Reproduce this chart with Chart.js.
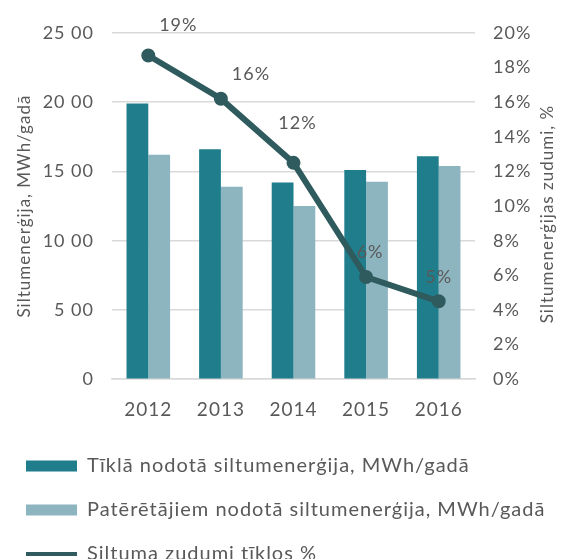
<!DOCTYPE html>
<html>
<head>
<meta charset="utf-8">
<script src="https://cdn.jsdelivr.net/npm/chart.js@4"></script>
<style>
    html, body { margin: 0; padding: 0; background: #fff; }
    #wrap { width: 563px; height: 559px; position: relative; }
</style>
</head>
<body>
<div id="wrap"><canvas id="myChart"></canvas></div>
<script>
const years = ['2012', '2013', '2014', '2015', '2016'];
const gridEnergy = [1990, 1660, 1420, 1510, 1610];
const consumerEnergy = [1620, 1390, 1250, 1425, 1540];
const lossPercent = [18.7, 16.2, 12.5, 5.9, 4.5];
const lossLabels = ['19%', '16%', '12%', '6%', '5%'];
const leftTicks = ['0', '5 00', '10 00', '15 00', '20 00', '25 00'];

const textColor = '#595959';
const fontFamily = "'Lato', 'Open Sans', sans-serif";
// where each % label sits relative to its point (dx, dy)
const labelShift = [[30, -30], [30, -25], [4, -40], [4, -25], [0, -24]];

// the original font is wide, so space the letters out a bit
const wideText = {
    id: 'wideText',
    beforeDraw(chart) {
        chart.ctx.letterSpacing = '1px';
    }
};

// data labels over the line points
const lineLabels = {
    id: 'lineLabels',
    afterDatasetsDraw(chart) {
        const meta = chart.getDatasetMeta(2);
        const ctx = chart.ctx;
        ctx.save();
        ctx.font = '18px ' + fontFamily;
        ctx.fillStyle = textColor;
        ctx.textAlign = 'center';
        ctx.textBaseline = 'middle';
        meta.data.forEach((pt, i) => {
            ctx.fillText(lossLabels[i], pt.x + labelShift[i][0], pt.y + labelShift[i][1]);
        });
        ctx.restore();
    }
};

// right axis title reads bottom-to-top like the left one
const rightTitle = {
    id: 'rightTitle',
    afterDraw(chart) {
        const ctx = chart.ctx;
        const area = chart.chartArea;
        ctx.save();
        ctx.translate(548, (area.top + area.bottom) / 2 + 8);
        ctx.rotate(-Math.PI / 2);
        ctx.font = '17px ' + fontFamily;
        ctx.fillStyle = textColor;
        ctx.textAlign = 'center';
        ctx.textBaseline = 'middle';
        ctx.fillText('Siltumenerģijas zudumi, %', 0, 0);
        ctx.restore();
    }
};

const ctx = document.getElementById('myChart').getContext('2d');
const myChart = new Chart(ctx, {
    type: 'bar',
    data: {
        labels: years,
        datasets: [{
            label: 'Tīklā nodotā siltumenerģija, MWh/gadā',
            data: gridEnergy,
            backgroundColor: '#1f7d8c',
            yAxisID: 'y',
            order: 1,
            categoryPercentage: 0.6,
            barPercentage: 1
        },
        {
            label: 'Patērētājiem nodotā siltumenerģija, MWh/gadā',
            data: consumerEnergy,
            backgroundColor: '#8db5c0',
            yAxisID: 'y',
            order: 1,
            categoryPercentage: 0.6,
            barPercentage: 1
        },
        {
            type: 'line',
            label: 'Siltuma zudumi tīklos %',
            data: lossPercent,
            borderColor: '#2f5b5e',
            backgroundColor: '#2f5b5e',
            borderWidth: 6,
            pointRadius: 4,
            pointHoverRadius: 4,
            tension: 0,
            yAxisID: 'y1',
            order: 0
        }]
    },
    options: {
        responsive: true,
        maintainAspectRatio: false,
        animation: false,
        layout: { padding: { top: 33, left: 2, right: 0, bottom: -15 } },
        plugins: {
            tooltip: { enabled: false },
            legend: {
                position: 'bottom',
                align: 'start',
                labels: {
                    usePointStyle: true,
                    pointStyleWidth: 51,
                    boxHeight: 11,
                    padding: 24,
                    color: textColor,
                    font: { size: 20, family: fontFamily },
                    sort: (a, b) => a.datasetIndex - b.datasetIndex,
                    generateLabels(chart) {
                        const items = Chart.defaults.plugins.legend.labels.generateLabels(chart);
                        items.forEach(item => {
                            if (item.datasetIndex === 2) {
                                item.pointStyle = 'line';
                                item.lineWidth = 4;
                            } else {
                                item.pointStyle = 'rect';
                            }
                        });
                        return items;
                    }
                }
            }
        },
        scales: {
            x: {
                grid: { display: false },
                border: { color: '#d9d9d9', width: 1.5 },
                ticks: { color: textColor, font: { size: 19, family: fontFamily }, padding: 11 }
            },
            y: {
                position: 'left',
                min: 0,
                max: 2500,
                ticks: {
                    stepSize: 500,
                    color: textColor,
                    padding: 18,
                    font: { size: 18, family: fontFamily },
                    callback: (v) => leftTicks[v / 500]
                },
                grid: { color: '#d9d9d9', lineWidth: 1.5, drawTicks: false },
                border: { display: false },
                title: {
                    display: true,
                    text: 'Siltumenerģija, MWh/gadā',
                    color: textColor,
                    font: { size: 17, family: fontFamily },
                    padding: { top: 12, bottom: 0 }
                },
                afterFit(scale) { scale.width = 110; }
            },
            y1: {
                position: 'right',
                min: 0,
                max: 20,
                ticks: {
                    stepSize: 2,
                    color: textColor,
                    padding: 18,
                    font: { size: 18, family: fontFamily },
                    callback: (v) => v + '%'
                },
                grid: { display: false, drawTicks: false },
                border: { display: false },
                afterFit(scale) { scale.width = 88; }
            }
        }
    },
    plugins: [wideText, lineLabels, rightTitle]
});
</script>
</body>
</html>
